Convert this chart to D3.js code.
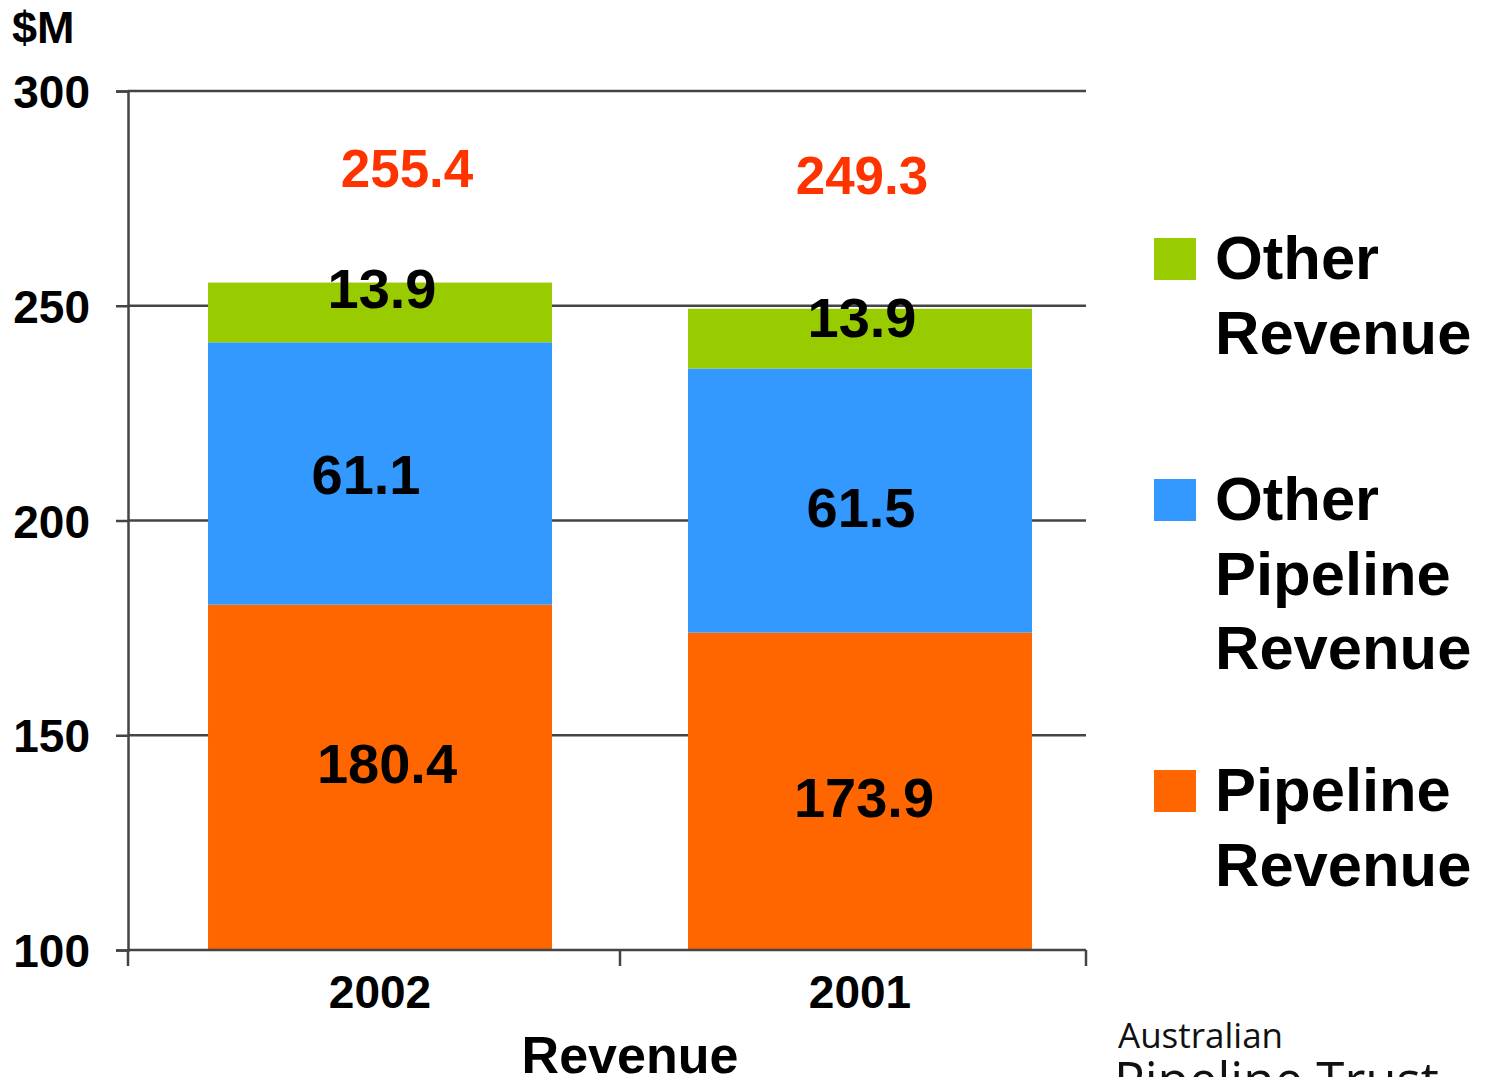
<!DOCTYPE html>
<html>
<head>
<meta charset="utf-8">
<script src="https://cdn.jsdelivr.net/npm/d3@7"></script>
<style>
  body { margin: 0; background: #fff; }
  svg { display: block; font-family: "Liberation Sans", Arial, sans-serif; }
</style>
</head>
<body>
<svg width="1495" height="1077"></svg>
<script>
// data
const years = ["2002", "2001"];
const seriesKeys = ["Pipeline Revenue", "Other Pipeline Revenue", "Other Revenue"];
const pipelineRevenue = [180.4, 173.9];
const otherPipelineRevenue = [61.1, 61.5];
const otherRevenue = [13.9, 13.9];
const totals = [255.4, 249.3];
const yTicks = [100, 150, 200, 250, 300];
const legendLines = [["Other", "Revenue"], ["Other", "Pipeline", "Revenue"], ["Pipeline", "Revenue"]];

const colors = { "Pipeline Revenue": "#ff6600", "Other Pipeline Revenue": "#3399ff", "Other Revenue": "#99cc00" };

// label nudges (layout only), per year
const segNudge = {
  "Pipeline Revenue": { dx: [7, 4], dy: [6, 26] },
  "Other Pipeline Revenue": { dx: [-14, 1], dy: [21, 26] },
  "Other Revenue": { dx: [2, 2], dy: [-4, -2] }
};
const totalNudge = { dx: [27, 2], dy: [-96, -115] };

const rows = years.map((y, i) => ({
  year: y,
  idx: i,
  "Pipeline Revenue": pipelineRevenue[i],
  "Other Pipeline Revenue": otherPipelineRevenue[i],
  "Other Revenue": otherRevenue[i],
  total: totals[i]
}));

const svg = d3.select("svg");
const plotLeft = 128, plotRight = 1086, plotTop = 91, plotBottom = 950;

// scales
const x = d3.scaleBand()
  .domain(years)
  .range([140, 1100])
  .paddingInner(0.2833)
  .paddingOuter(0.1417);

const y = d3.scaleLinear()
  .domain([100, 300])
  .range([plotBottom, plotTop]);

const stacked = d3.stack().keys(seriesKeys)(rows);

// gridlines (behind bars)
svg.append("g").selectAll("line")
  .data(yTicks.filter(t => t > 100))
  .enter().append("line")
  .attr("x1", plotLeft).attr("x2", plotRight)
  .attr("y1", d => y(d)).attr("y2", d => y(d))
  .attr("stroke", "#444").attr("stroke-width", 2.5);

// bars
const layer = svg.append("g").selectAll("g")
  .data(stacked)
  .enter().append("g")
  .attr("fill", d => colors[d.key]);

layer.selectAll("rect")
  .data(d => d)
  .enter().append("rect")
  .attr("x", d => x(d.data.year))
  .attr("width", x.bandwidth())
  .attr("y", d => y(d[1]))
  .attr("height", d => y(Math.max(d[0], 100)) - y(d[1]));

// segment labels
stacked.forEach(s => {
  const n = segNudge[s.key];
  svg.append("g").selectAll("text")
    .data(s)
    .enter().append("text")
    .attr("x", d => x(d.data.year) + x.bandwidth() / 2 + n.dx[d.data.idx])
    .attr("y", d => (y(Math.max(d[0], 100)) + y(d[1])) / 2 + n.dy[d.data.idx])
    .attr("text-anchor", "middle")
    .attr("font-size", 56)
    .attr("font-weight", "bold")
    .attr("fill", "#000")
    .text(d => d.data[s.key].toFixed(1));
});

// total labels
svg.append("g").selectAll("text")
  .data(rows)
  .enter().append("text")
  .attr("x", d => x(d.year) + x.bandwidth() / 2 + totalNudge.dx[d.idx])
  .attr("y", d => y(d.total) + totalNudge.dy[d.idx])
  .attr("text-anchor", "middle")
  .attr("font-size", 53)
  .attr("font-weight", "bold")
  .attr("fill", "#ff3300")
  .text(d => d.total.toFixed(1));

// y axis
const yAxis = d3.axisLeft(y).tickValues(yTicks).tickSize(12).tickPadding(26).tickFormat(d3.format("d"));
const yg = svg.append("g")
  .attr("transform", `translate(${plotLeft},0)`)
  .call(yAxis);
yg.select(".domain").attr("stroke", "#444").attr("stroke-width", 2.5);
yg.selectAll(".tick line").attr("stroke", "#444").attr("stroke-width", 2.5);
yg.selectAll(".tick text")
  .attr("font-size", 46).attr("font-weight", "bold").attr("fill", "#000")
  .attr("font-family", "Liberation Sans, Arial, sans-serif")
  .attr("dy", "0.36em");

// x axis line + boundary ticks
svg.append("line")
  .attr("x1", plotLeft).attr("x2", plotRight)
  .attr("y1", plotBottom).attr("y2", plotBottom)
  .attr("stroke", "#444").attr("stroke-width", 2.5);

const bounds = [plotLeft, (x(years[0]) + x.bandwidth() + x(years[1])) / 2, plotRight];
svg.append("g").selectAll("line")
  .data(bounds)
  .enter().append("line")
  .attr("x1", d => d).attr("x2", d => d)
  .attr("y1", plotBottom).attr("y2", plotBottom + 16)
  .attr("stroke", "#444").attr("stroke-width", 2.5);

svg.append("g").selectAll("text")
  .data(years)
  .enter().append("text")
  .attr("x", d => x(d) + x.bandwidth() / 2)
  .attr("y", 1008)
  .attr("text-anchor", "middle")
  .attr("font-size", 46)
  .attr("font-weight", "bold")
  .text(d => d);

// axis titles
svg.append("text")
  .attr("x", 12).attr("y", 43)
  .attr("font-size", 45).attr("font-weight", "bold")
  .text("$M");

svg.append("text")
  .attr("x", 630).attr("y", 1073)
  .attr("text-anchor", "middle")
  .attr("font-size", 52).attr("font-weight", "bold")
  .text("Revenue");

// legend
const legendTop = [238, 479, 770];
const legendOrder = ["Other Revenue", "Other Pipeline Revenue", "Pipeline Revenue"];
const lg = svg.append("g").selectAll("g")
  .data(legendOrder)
  .enter().append("g")
  .attr("transform", (d, i) => `translate(1154,${legendTop[i]})`);

lg.append("rect")
  .attr("width", 42).attr("height", 42)
  .attr("fill", d => colors[d]);

lg.append("text")
  .attr("x", 62)
  .attr("font-size", 61.5).attr("font-weight", "bold")
  .selectAll("tspan")
  .data((d, i) => legendLines[i])
  .enter().append("tspan")
  .attr("x", 61)
  .attr("y", (d, i) => 41 + i * 74.5)
  .text(d => d);

// logo text
svg.append("text")
  .attr("x", 1118).attr("y", 1048)
  .attr("font-family", "Open Sans, sans-serif")
  .attr("font-size", 35)
  .attr("fill", "#111")
  .text("Australian");

svg.append("text")
  .attr("x", 1114).attr("y", 1099)
  .attr("font-family", "Open Sans, sans-serif")
  .attr("font-size", 51)
  .attr("fill", "#111")
  .text("Pipeline Trust");
</script>
</body>
</html>
